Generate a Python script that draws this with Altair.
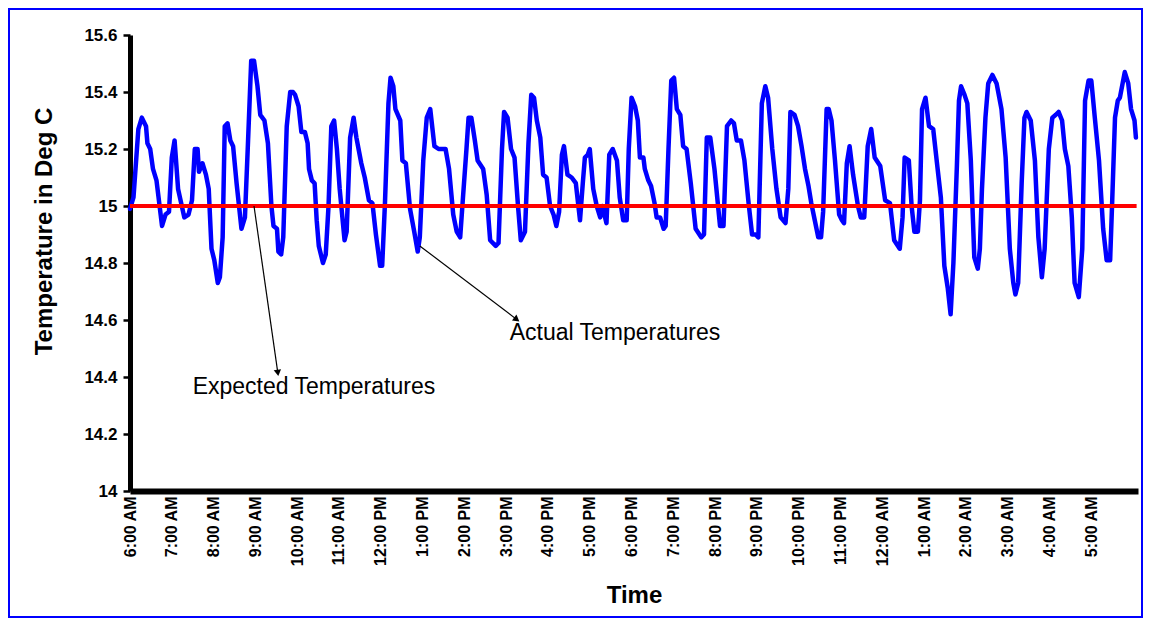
import json
import altair as alt
import pandas as pd

# Actual temperatures: minutes after 6:00 AM and deg C
minutes = [
    0, 5, 12, 17, 23, 25, 29, 33, 38, 46, 51, 56, 60, 64, 69, 78, 84, 89, 93, 97,
    99, 104, 109, 113, 117, 121, 126, 129, 133, 136, 140, 144, 148, 153, 160, 165, 169, 174, 178, 183,
    187, 193, 198, 203, 206, 211, 213, 217, 220, 225, 230, 234,
    237, 242, 246, 251, 255, 257, 261, 265, 268, 271, 277, 281, 285, 289, 293, 297, 301, 308, 311, 316,
    321, 325, 332, 337, 343, 348, 353, 359, 362, 366, 371, 374, 378, 381, 388, 391, 396, 402, 408, 413,
    416, 421, 426, 431, 437, 443, 447, 453, 458, 464, 469, 474, 478,
    483, 486, 490, 495, 499, 507, 512, 517, 525, 529, 534, 537, 542, 547, 552, 557, 561, 567, 572, 576,
    580, 584, 589, 593, 598, 603, 608, 612, 616, 620, 623, 628, 634, 640, 646, 650, 653, 657, 660, 665,
    670, 675, 678, 684, 688, 693, 699, 703, 708, 713, 716, 720,
    725, 729, 732, 737, 739, 744, 748, 753, 756, 761, 766, 769, 773, 777, 781, 785, 790, 794, 799, 805,
    812, 820, 824, 828, 833, 839, 847, 852, 857, 863, 867, 871, 877, 882, 888, 893, 898, 902, 907, 912,
    916, 922, 928, 934, 941, 945, 948, 954, 959, 964, 969,
    974, 978, 983, 988, 992, 995, 1000, 1003, 1007, 1012, 1018, 1022, 1025, 1029, 1033, 1038, 1045, 1049, 1054, 1059,
    1064, 1069, 1077, 1084, 1091, 1097, 1105, 1109, 1112, 1118, 1122, 1126, 1131, 1134, 1137, 1142, 1147, 1153, 1158, 1164,
    1169, 1174, 1178, 1182, 1187, 1190, 1193, 1198, 1202, 1207, 1212,
    1217, 1220, 1223, 1228, 1232, 1238, 1244, 1251, 1257, 1263, 1268, 1271, 1275, 1280, 1284, 1287, 1293, 1299, 1304, 1309,
    1313, 1319, 1324, 1329, 1333, 1338, 1342, 1347, 1352, 1356, 1362, 1367, 1371, 1376, 1380, 1385, 1391, 1397, 1402, 1407,
    1410, 1414, 1418, 1421, 1428, 1433, 1437, 1442, 1444,
]
temps = [
    14.99, 15.03, 15.27, 15.31, 15.28, 15.22, 15.20, 15.13, 15.09, 14.93, 14.97, 14.98, 15.17, 15.23, 15.06, 14.96, 14.97, 15.02, 15.20, 15.20,
    15.12, 15.15, 15.11, 15.06, 14.85, 14.81, 14.73, 14.75, 14.89, 15.28, 15.29, 15.23, 15.21, 15.08, 14.92, 14.96, 15.20, 15.51, 15.51, 15.42,
    15.32, 15.30, 15.22, 15.00, 14.93, 14.92, 14.84, 14.83, 14.89, 15.28, 15.40, 15.40,
    15.39, 15.35, 15.26, 15.26, 15.22, 15.13, 15.09, 15.08, 14.95, 14.86, 14.80, 14.83, 15.00, 15.28, 15.30, 15.20, 15.06, 14.88, 14.91, 15.24,
    15.31, 15.24, 15.15, 15.10, 15.02, 15.01, 14.90, 14.79, 14.79, 15.01, 15.36, 15.45, 15.42, 15.34, 15.30, 15.16, 15.15, 14.99, 14.91, 14.84,
    14.89, 15.16, 15.31, 15.34, 15.21, 15.20, 15.20, 15.20, 15.13, 14.97, 14.91, 14.89, 15.03,
    15.20, 15.31, 15.31, 15.23, 15.16, 15.13, 15.04, 14.88, 14.86, 14.87, 15.20, 15.33, 15.31, 15.20, 15.17, 15.00, 14.88, 14.91, 15.22, 15.39,
    15.38, 15.30, 15.24, 15.11, 15.10, 15.00, 14.97, 14.93, 14.98, 15.18, 15.21, 15.11, 15.10, 15.08, 14.95, 15.08, 15.17, 15.18, 15.20, 15.06,
    15.00, 14.96, 15.00, 14.94, 15.18, 15.20, 15.16, 15.03, 14.95, 14.95, 15.20, 15.38,
    15.35, 15.30, 15.17, 15.17, 15.13, 15.09, 15.07, 15.01, 14.96, 14.96, 14.92, 14.93, 15.20, 15.44, 15.45, 15.34, 15.32, 15.21, 15.20, 15.08,
    14.92, 14.89, 14.90, 15.24, 15.24, 15.13, 14.93, 14.93, 15.28, 15.30, 15.29, 15.23, 15.23, 15.16, 15.01, 14.90, 14.90, 14.89, 15.36, 15.42,
    15.38, 15.20, 15.06, 14.96, 14.94, 15.06, 15.33, 15.32, 15.28, 15.21, 15.13,
    15.07, 15.01, 14.95, 14.89, 14.89, 14.98, 15.34, 15.34, 15.30, 15.16, 14.97, 14.95, 14.94, 15.15, 15.21, 15.11, 15.00, 14.96, 14.96, 15.21,
    15.27, 15.17, 15.14, 15.02, 15.01, 14.88, 14.85, 14.96, 15.17, 15.16, 15.00, 14.91, 14.91, 15.02, 15.34, 15.38, 15.28, 15.27, 15.16, 15.03,
    14.79, 14.71, 14.62, 14.80, 15.14, 15.37, 15.42, 15.39, 15.36, 15.16, 14.82,
    14.78, 14.85, 15.06, 15.31, 15.43, 15.46, 15.43, 15.34, 15.17, 14.85, 14.73, 14.69, 14.73, 15.08, 15.31, 15.33, 15.30, 15.16, 14.89, 14.75,
    14.85, 15.20, 15.31, 15.32, 15.33, 15.30, 15.20, 15.14, 14.96, 14.73, 14.68, 14.85, 15.37, 15.44, 15.44, 15.31, 15.16, 14.92, 14.81, 14.81,
    15.02, 15.31, 15.37, 15.38, 15.47, 15.43, 15.34, 15.30, 15.24,
]
assert len(minutes) == len(temps)

expected_temp = 15.0
expected_span = [0, 1445]

hour_labels = [
    "6:00 AM", "7:00 AM", "8:00 AM", "9:00 AM", "10:00 AM", "11:00 AM",
    "12:00 PM", "1:00 PM", "2:00 PM", "3:00 PM", "4:00 PM", "5:00 PM",
    "6:00 PM", "7:00 PM", "8:00 PM", "9:00 PM", "10:00 PM", "11:00 PM",
    "12:00 AM", "1:00 AM", "2:00 AM", "3:00 AM", "4:00 AM", "5:00 AM",
]
x_tick_values = [60 * i for i in range(len(hour_labels))]
y_tick_values = [14.0, 14.2, 14.4, 14.6, 14.8, 15.0, 15.2, 15.4, 15.6]

# annotations (data coordinates)
note_labels = ["Actual Temperatures", "Expected Temperatures"]
note_minute = [545, 90]
note_temp = [14.554, 14.365]
arrow_from_minute = [416, 178]
arrow_from_temp = [14.86, 15.0]
arrow_to_minute = [554, 212]
arrow_to_temp = [14.604, 14.418]
arrow_angle = [127, 172]

W, H = 1008, 456
FONT = "Liberation Sans"

df = pd.DataFrame({"minute": minutes, "temp": temps})
exp_df = pd.DataFrame({"minute": expected_span, "temp": [expected_temp] * 2})
note_df = pd.DataFrame({"minute": note_minute, "temp": note_temp, "label": note_labels})
arrow_df = pd.DataFrame({
    "minute": arrow_from_minute, "temp": arrow_from_temp,
    "minute2": arrow_to_minute, "temp2": arrow_to_temp, "angle": arrow_angle,
})

xscale = alt.Scale(domain=[0, 1447], nice=False, zero=False)
yscale = alt.Scale(domain=[14, 15.6], nice=False, zero=False)

label_js = json.dumps(hour_labels)

x_axis = alt.Axis(
    values=x_tick_values,
    labelExpr=f"{label_js}[round(datum.value / 60)]",
    labelAngle=270, labelPadding=5, labelFlush=False, labelOverlap=False,
    labelFont=FONT, labelFontWeight="bold", labelFontSize=16, labelColor="black",
    ticks=False, grid=False,
    domainColor="black", domainWidth=6,
    title="Time", titleFont=FONT, titleFontWeight="bold", titleFontSize=24,
    titleColor="black", titleY=104, titleBaseline="middle",
)
y_axis = alt.Axis(
    values=y_tick_values,
    labelExpr="format(datum.value, '.1~f')",
    labelFont=FONT, labelFontWeight="bold", labelFontSize=17, labelColor="black",
    labelPadding=6, labelFlush=False,
    tickSize=7, tickWidth=2.5, tickColor="black", grid=False,
    domainColor="black", domainWidth=5,
    title="Temperature in Deg C", titleFont=FONT, titleFontWeight="bold",
    titleFontSize=24, titleColor="black", titleAngle=270,
    titleX=-74, titleY=196, titleAlign="center", titleBaseline="bottom",
)

X = alt.X("minute:Q", scale=xscale, axis=x_axis)
Y = alt.Y("temp:Q", scale=yscale, axis=y_axis)

actual = alt.Chart(df).mark_line(
    color="#0000ff", strokeWidth=4.5, strokeJoin="round", strokeCap="round"
).encode(x=X, y=Y)

expected = alt.Chart(exp_df).mark_line(color="#ff0000", strokeWidth=4).encode(x=X, y=Y)

arrow_lines = alt.Chart(arrow_df).mark_rule(color="black", strokeWidth=1.2).encode(
    x=X, y=Y, x2="minute2:Q", y2="temp2:Q",
)
arrow_heads = alt.Chart(arrow_df).mark_point(
    shape="triangle", filled=True, size=55, color="black", opacity=1
).encode(
    x=alt.X("minute2:Q", scale=xscale, axis=x_axis),
    y=alt.Y("temp2:Q", scale=yscale, axis=y_axis),
    angle=alt.Angle("angle:Q", scale=None),
)

notes = alt.Chart(note_df).mark_text(
    align="left", baseline="middle", font=FONT, fontSize=23, color="black"
).encode(x=X, y=Y, text="label:N")

border = alt.Chart(pd.DataFrame({"k": [0]})).mark_rect(
    fillOpacity=0, stroke="#0000ff", strokeWidth=2, clip=False
).encode(
    x=alt.value(-121), x2=alt.value(W + 4), y=alt.value(-26), y2=alt.value(H + 126)
)

chart = alt.layer(actual, expected, arrow_lines, arrow_heads, notes, border).properties(
    width=W, height=H,
    padding={"left": 122, "top": 27, "right": 5, "bottom": 127},
    autosize=alt.AutoSizeParams(type="none"),
    background="white",
).configure_view(stroke=None)

chart.save("out.html", embed_options={"renderer": "svg", "actions": False})
